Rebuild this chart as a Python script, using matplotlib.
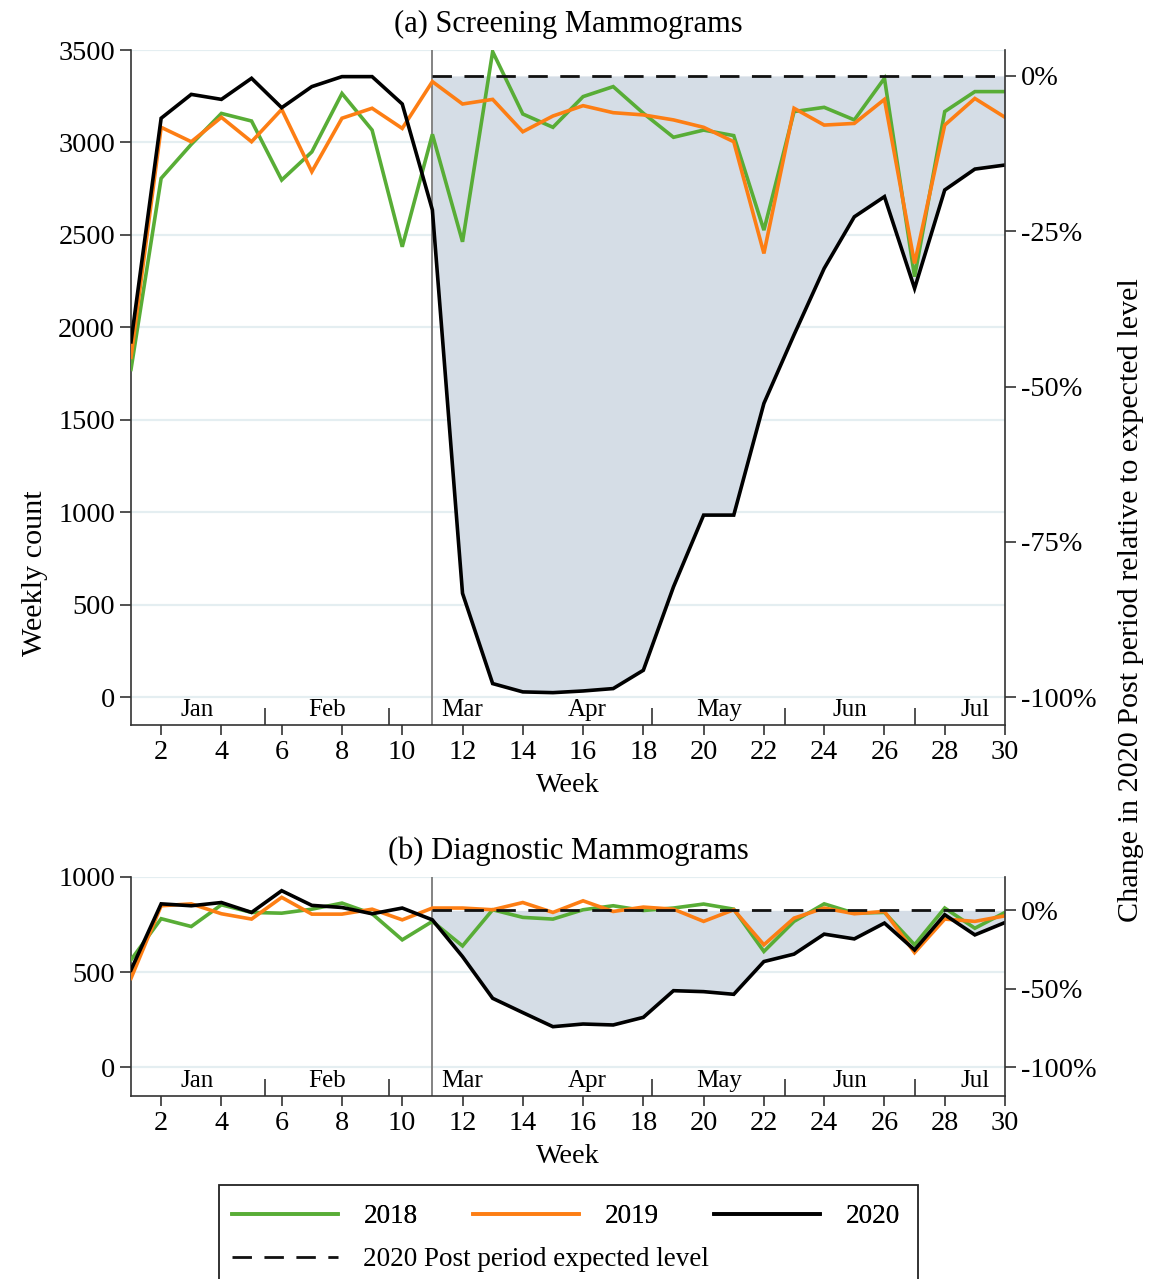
import matplotlib
matplotlib.use('Agg')
import matplotlib.pyplot as plt
from matplotlib.patches import Rectangle
from matplotlib.lines import Line2D

plt.rcParams['font.family'] = ['Liberation Serif', 'DejaVu Serif']

# ---------------- data ----------------
weeks = list(range(1, 31))
break_week = 11

scr_2018 = [1773, 2806, 2990, 3157, 3116, 2797, 2949, 3265, 3067, 2436,
            3044, 2463, 3491, 3154, 3082, 3248, 3302, 3158, 3028, 3067,
            3037, 2526, 3167, 3190, 3122, 3347, 2274, 3167, 3275, 3275]
scr_2019 = [1838, 3082, 3004, 3136, 3004, 3179, 2842, 3131, 3185, 3076,
            3329, 3208, 3233, 3058, 3143, 3199, 3161, 3149, 3122, 3082,
            3004, 2400, 3185, 3094, 3103, 3233, 2346, 3094, 3238, 3136]
scr_2020 = [1922, 3131, 3260, 3233, 3347, 3188, 3302, 3356, 3356, 3208,
            2635, 562, 74, 29, 25, 34, 47, 146, 597, 985,
            985, 1589, 1960, 2319, 2598, 2707, 2211, 2743, 2856, 2878]
scr_expected = 3360

dia_2018 = [565, 781, 740, 854, 814, 810, 831, 863, 807, 670,
            767, 638, 828, 788, 779, 828, 849, 824, 837, 858,
            831, 609, 767, 859, 810, 814, 644, 837, 731, 814]
dia_2019 = [468, 849, 859, 807, 779, 893, 805, 805, 831, 775,
            837, 837, 828, 866, 814, 875, 819, 842, 831, 767,
            828, 644, 784, 837, 807, 819, 603, 779, 767, 796]
dia_2020 = [512, 859, 849, 866, 814, 928, 851, 840, 807, 837,
            775, 582, 363, 288, 214, 228, 223, 263, 403, 398,
            384, 556, 595, 700, 675, 758, 617, 802, 696, 761]
dia_expected = 825

month_names = ['Jan', 'Feb', 'Mar', 'Apr', 'May', 'Jun', 'Jul']
month_label_pos = [3.2, 7.5, 12.0, 16.15, 20.5, 24.86, 29.0]
month_bounds = [5.43, 9.57, 14.0, 18.29, 22.71, 27.0]

scr_ticks = [0, 500, 1000, 1500, 2000, 2500, 3000, 3500]
scr_pct_ticks = [0, -25, -50, -75, -100]
dia_ticks = [0, 500, 1000]
dia_pct_ticks = [0, -50, -100]
week_ticks = list(range(2, 31, 2))

# ---------------- style ----------------
GREEN = '#58ad36'
ORANGE = '#fd7e14'
BLACK = '#000000'
FILL = '#d5dde6'
GRID = '#e4eef1'
SPINE = '#333333'
FS_TICK = 20.3
FS_MONTH = 18
FS_TITLE = 22
FS_YLAB = 21.7
FS_LEG = 19.5

W, H = 1153, 1279
fig = plt.figure(figsize=(W / 100, H / 100), dpi=100)


def fbox(l, t, r, b):
    return [l / W, 1 - b / H, (r - l) / W, (b - t) / H]


ax1 = fig.add_axes(fbox(131, 50, 1005, 725))
ax2 = fig.add_axes(fbox(131, 877, 1005, 1096))


def panel(ax, y18, y19, y20, expected, ylim, yticks, pticks, title):
    post = weeks.index(break_week)
    ax.set_xlim(1, 30)
    ax.set_ylim(*ylim)
    for t in yticks:
        ax.axhline(t, color=GRID, lw=1.6, zorder=0)
    ax.fill_between(weeks[post:], y20[post:], expected, color=FILL, lw=0, zorder=1)
    ax.axvline(break_week, color='#7a7a7a', lw=1.3, zorder=2)
    l18, = ax.plot(weeks, y18, color=GREEN, lw=2.6, zorder=3, solid_joinstyle='miter')
    l19, = ax.plot(weeks, y19, color=ORANGE, lw=2.6, zorder=3, solid_joinstyle='miter')
    l20, = ax.plot(weeks, y20, color=BLACK, lw=2.6, zorder=4, solid_joinstyle='miter')
    ldash = ax.hlines(expected, break_week, 30, colors='#111111', lw=2.0,
                      linestyles=(0, (7, 4.5)), zorder=5)
    ax.set_yticks(yticks)
    ax.set_yticklabels([str(t) for t in yticks])
    ax.set_xticks(week_ticks)
    ax.set_xticks(month_bounds, minor=True)
    ax.tick_params(axis='x', which='major', direction='out', length=7, width=1.2,
                   labelsize=FS_TICK, color=SPINE)
    ax.tick_params(axis='x', which='minor', direction='in', length=12, width=1.2,
                   color=SPINE)
    ax.tick_params(axis='y', direction='out', length=8, width=1.2,
                   labelsize=FS_TICK, color=SPINE)
    ax.set_xlabel('Week', fontsize=FS_TICK, labelpad=6)
    ax.set_title(title, fontsize=FS_TITLE, pad=13)
    for name, p in zip(month_names, month_label_pos):
        ax.annotate(name, xy=(p, 0), xycoords=('data', 'axes fraction'),
                    xytext=(0, 15), textcoords='offset pixels',
                    ha='center', va='center', fontsize=FS_MONTH)
    axr = ax.twinx()
    axr.set_ylim((ylim[0] / expected - 1) * 100, (ylim[1] / expected - 1) * 100)
    axr.set_yticks(pticks)
    axr.set_yticklabels([f'{p}%' for p in pticks])
    axr.tick_params(axis='y', direction='out', length=8, width=1.2,
                    labelsize=FS_TICK, color=SPINE)
    for a in (ax, axr):
        a.spines['top'].set_visible(False)
        for s in ('left', 'right', 'bottom'):
            a.spines[s].set_color(SPINE)
            a.spines[s].set_linewidth(1.2)
    ax.spines['right'].set_visible(False)
    axr.spines['left'].set_visible(False)
    axr.spines['bottom'].set_visible(False)
    return l18, l19, l20, ldash


h = panel(ax1, scr_2018, scr_2019, scr_2020, scr_expected, (-150, 3500),
          scr_ticks, scr_pct_ticks, '(a) Screening Mammograms')
panel(ax2, dia_2018, dia_2019, dia_2020, dia_expected, (-150, 1000),
      dia_ticks, dia_pct_ticks, '(b) Diagnostic Mammograms')

fig.text(35 / W, 1 - 573 / H, 'Weekly count', rotation=90, ha='center',
         va='center', fontsize=FS_YLAB)
fig.text(1131 / W, 1 - 600 / H, 'Change in 2020 Post period relative to expected level',
         rotation=90, ha='center', va='center', fontsize=FS_YLAB)

# ---------------- legend ----------------
dash_handle = Line2D([], [], color='#111111', lw=2.0, linestyle=(0, (7, 4.5)))
leg1 = fig.legend(h[:3], ['2018', '2019', '2020'], ncol=3, loc='upper left',
                  bbox_to_anchor=(232 / W, 1 - 1204 / H), frameon=False,
                  handlelength=3.9, handletextpad=0.95, columnspacing=2.05,
                  borderaxespad=0, borderpad=0, fontsize=FS_LEG)
leg2 = fig.legend([dash_handle], ['2020 Post period expected level'], loc='upper left',
                  bbox_to_anchor=(232 / W, 1 - 1247 / H), frameon=False,
                  handlelength=3.9, handletextpad=0.95,
                  borderaxespad=0, borderpad=0, fontsize=FS_LEG)
fig.add_artist(leg1)
fig.add_artist(Rectangle((219 / W, 1 - 1300 / H), 699 / W, 115 / H,
                         transform=fig.transFigure, fill=False,
                         edgecolor='#222222', lw=1.3))

fig.savefig('out.png', dpi=100)
